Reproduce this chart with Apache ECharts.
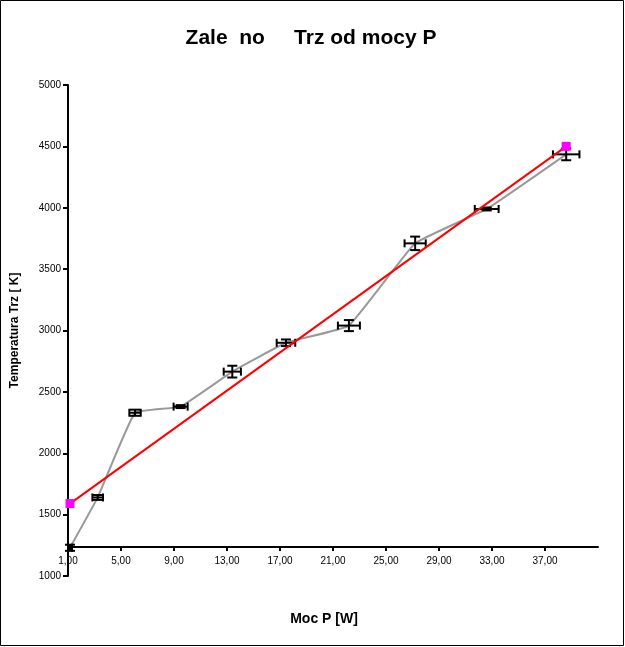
<!DOCTYPE html>
<html>
<head>
<meta charset="utf-8">
<script src="https://cdn.jsdelivr.net/npm/echarts@6/dist/echarts.min.js"></script>
<style>html,body{margin:0;padding:0;background:#fff}#c{width:625px;height:647px}</style>
</head>
<body>
<div id="c"></div>
<script>
const titleText = 'Zale  no     Trz od mocy P';
const xName = 'Moc P [W]';
const yName = 'Temperatura Trz [ K]';
// measured points
const powerP = [1.15, 3.24, 6.06, 9.5, 13.4, 17.45, 22.2, 27.2, 32.6, 38.6];
const tempT = [1230, 1640, 2330, 2380, 2665, 2900, 3040, 3710, 3990, 4435];
const powerErr = [0.15, 0.4, 0.43, 0.53, 0.65, 0.7, 0.83, 0.8, 0.9, 1.0];
const tempErr = [25, 20, 25, 12, 48, 27, 45, 55, 12, 48];
// linear fit end points
const fitP = [1.15, 38.6];
const fitT = [1590, 4500];

const FONT = "'Liberation Sans', Arial, sans-serif";
const chart = echarts.init(document.getElementById('c'), null, {renderer: 'canvas'});

const errData = powerP.map((x, i) => [x, tempT[i], powerErr[i], tempErr[i]]);

function renderErr(params, api) {
  const x = api.value(0), y = api.value(1), ex = api.value(2), ey = api.value(3);
  const l = api.coord([x - ex, y]);
  const r = api.coord([x + ex, y]);
  const t = api.coord([x, y + ey]);
  const b = api.coord([x, y - ey]);
  const st = {stroke: '#000', lineWidth: 2, fill: null};
  const capV = 4, capH = 5;
  return {
    type: 'group',
    children: [
      {type: 'line', shape: {x1: l[0], y1: l[1], x2: r[0], y2: r[1]}, style: st},
      {type: 'line', shape: {x1: l[0], y1: l[1] - capV, x2: l[0], y2: l[1] + capV}, style: st},
      {type: 'line', shape: {x1: r[0], y1: r[1] - capV, x2: r[0], y2: r[1] + capV}, style: st},
      {type: 'line', shape: {x1: t[0], y1: t[1], x2: b[0], y2: b[1]}, style: st},
      {type: 'line', shape: {x1: t[0] - capH, y1: t[1], x2: t[0] + capH, y2: t[1]}, style: st},
      {type: 'line', shape: {x1: b[0] - capH, y1: b[1], x2: b[0] + capH, y2: b[1]}, style: st}
    ]
  };
}

chart.setOption({
  backgroundColor: '#fff',
  animation: false,
  grid: {left: 68, right: 27, top: 85, bottom: 71, containLabel: false, outerBoundsMode: 'none'},
  xAxis: {
    type: 'value', min: 1, max: 41, interval: 4,
    offset: -29,
    axisLine: {onZero: false, lineStyle: {color: '#000', width: 2}},
    axisTick: {show: true, inside: false, length: 4, lineStyle: {color: '#000', width: 2}},
    axisLabel: {
      color: '#000', fontFamily: FONT, fontSize: 10, margin: 9, showMaxLabel: false,
      formatter: v => v.toFixed(2).replace('.', ',')
    },
    splitLine: {show: false}
  },
  yAxis: {
    type: 'value', min: 1000, max: 5000, interval: 500,
    axisLine: {show: true, onZero: false, lineStyle: {color: '#000', width: 2}},
    axisTick: {show: true, length: 5, lineStyle: {color: '#000', width: 2}},
    axisLabel: {color: '#000', fontFamily: FONT, fontSize: 10, margin: 7, formatter: v => String(v)},
    splitLine: {show: false},
    name: yName, nameLocation: 'middle', nameGap: 47, nameRotate: 90,
    nameTextStyle: {color: '#000', fontFamily: FONT, fontSize: 12, fontWeight: 'bold'}
  },
  graphic: [
    {type: 'rect', shape: {x: 0.5, y: 0.5, width: 623, height: 645}, style: {fill: null, stroke: '#000', lineWidth: 1}, z: 100},
    {type: 'text', x: 311, y: 38, style: {text: titleText, font: "bold 21px 'Liberation Sans', Arial, sans-serif", fill: '#000', textAlign: 'center', textVerticalAlign: 'middle'}},
    {type: 'text', x: 324, y: 619, style: {text: xName, font: "bold 14px 'Liberation Sans', Arial, sans-serif", fill: '#000', textAlign: 'center', textVerticalAlign: 'middle'}}
  ],
  series: [
    {
      type: 'line', data: powerP.map((x, i) => [x, tempT[i]]),
      smooth: 0.1, showSymbol: false, symbol: 'none',
      lineStyle: {color: '#999', width: 2}, z: 2, silent: true
    },
    {
      type: 'custom', data: errData, renderItem: renderErr, z: 3, silent: true
    },
    {
      type: 'line', data: fitP.map((x, i) => [x, fitT[i]]),
      symbol: 'rect', symbolSize: 9, showSymbol: true,
      itemStyle: {color: '#ff00ff'},
      lineStyle: {color: '#ff0000', width: 2}, z: 4, silent: true
    }
  ]
});
</script>
</body>
</html>
